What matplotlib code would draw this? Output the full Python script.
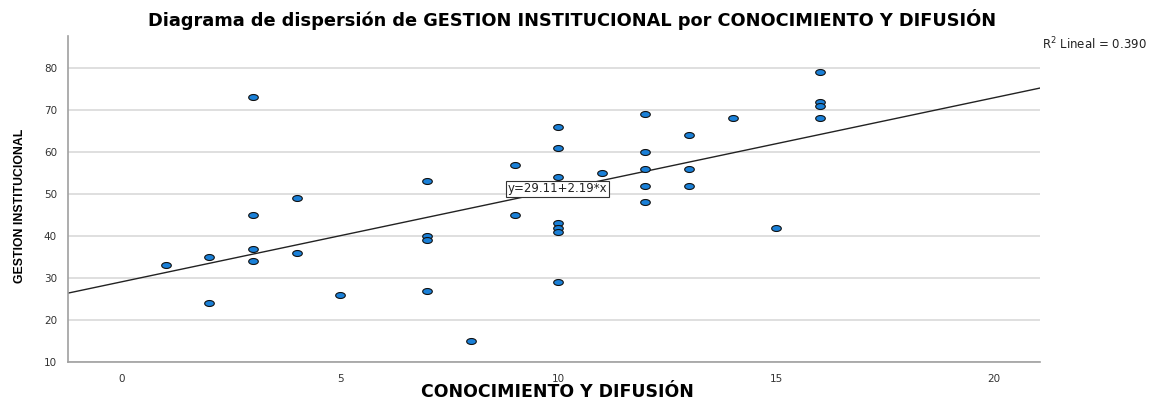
import matplotlib
matplotlib.use("Agg")
import matplotlib.pyplot as plt
from matplotlib.path import Path
import numpy as np

# scatter data: CONOCIMIENTO Y DIFUSION vs GESTION INSTITUCIONAL
conocimiento = [1, 2, 2, 3, 3, 3, 3, 4, 4, 5,
                7, 7, 7, 7, 8, 9, 9,
                10, 10, 10, 10, 10, 10, 10, 11,
                12, 12, 12, 12, 12, 13, 13, 13, 14, 15,
                16, 16, 16, 16]
gestion = [33, 35, 24, 73, 45, 37, 34, 49, 36, 26,
           53, 40, 39, 27, 15, 57, 45,
           66, 61, 54, 43, 42, 41, 29, 55,
           69, 60, 56, 52, 48, 64, 56, 52, 68, 42,
           79, 72, 71, 68]

intercept = 29.11
slope = 2.19
r2 = 0.390

x_ticks = [0, 5, 10, 15, 20]
y_ticks = [10, 20, 30, 40, 50, 60, 70, 80]

plt.rcParams['font.family'] = ['DejaVu Sans']

fig = plt.figure(figsize=(11.57, 4.01), dpi=100)
ax = fig.add_axes([68 / 1157, 1 - 362 / 401, (1040 - 68) / 1157, (362 - 36) / 401])

xmin, xmax = -1.24, 21.05
ymin, ymax = 10, 87.6
ax.set_xlim(xmin, xmax)
ax.set_ylim(ymin, ymax)

# horizontal grid only
ax.set_yticks(y_ticks)
ax.set_xticks(x_ticks)
ax.grid(axis='y', color='#d9d9d9', linewidth=1.2)
ax.set_axisbelow(True)
for side in ['top', 'right']:
    ax.spines[side].set_visible(False)
for side in ['left', 'bottom']:
    ax.spines[side].set_color('#a0a0a0')
    ax.spines[side].set_linewidth(1.2)
ax.tick_params(length=0, labelsize=7.5, labelcolor='#333333')
ax.tick_params(axis='x', pad=9)
ax.tick_params(axis='y', pad=8)

# fit line across the whole plot
xs = np.array([xmin, xmax])
ax.plot(xs, intercept + slope * xs, color='#222222', linewidth=1.0, zorder=2)

# elliptical markers like SPSS
t = np.linspace(0, 2 * np.pi, 40)
ellipse = Path(np.column_stack([np.cos(t), 0.62 * np.sin(t)]), closed=True)
ax.scatter(conocimiento, gestion, marker=ellipse, s=48, facecolor='#1a80d8',
           edgecolor='#111111', linewidth=0.8, zorder=3)

ax.text(9.98, 51.2, f"y={intercept:.2f}+{slope:.2f}*x", fontsize=8.5,
        ha='center', va='center', color='#222222', zorder=4,
        bbox=dict(boxstyle='square,pad=0.15', facecolor='white',
                  edgecolor='#333333', linewidth=0.8))

fig.text(1042 / 1157, 1 - 44 / 401, f"R$^2$ Lineal = {r2:.3f}", fontsize=8.5,
         ha='left', va='center', color='#222222')

fig.text(572 / 1157, 1 - 20 / 401,
         "Diagrama de dispersión de GESTION INSTITUCIONAL por CONOCIMIENTO Y DIFUSIÓN",
         fontsize=12.8, fontweight='bold', ha='center', va='center')

fig.text(557 / 1157, 1 - 392 / 401, "CONOCIMIENTO Y DIFUSIÓN",
         fontsize=12.5, fontweight='bold', ha='center', va='center')

fig.text(20 / 1157, 1 - 206 / 401, "GESTION INSTITUCIONAL", fontsize=8.8,
         fontweight='bold', family=['Liberation Sans'], rotation=90,
         ha='center', va='center')

fig.savefig("out.png", dpi=100)
